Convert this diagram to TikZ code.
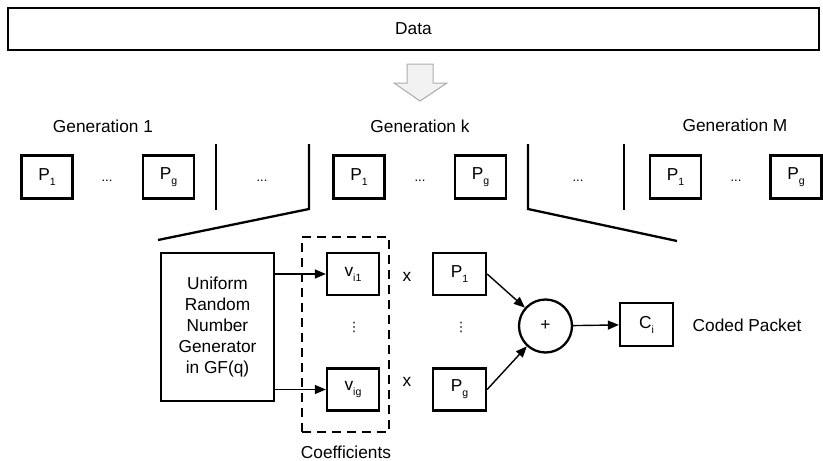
\documentclass[tikz,border=0pt]{standalone}
\usepackage{fontspec}
\setmainfont{Liberation Sans}
\newfontfamily\symfont{DejaVu Sans}
\usetikzlibrary{arrows.meta}
\newcommand{\mysub}[1]{\raisebox{-5pt}{\fontsize{10.5}{10.5}\selectfont #1}}
\begin{document}
\begin{tikzpicture}[x=1pt,y=-1pt,
  every node/.style={font=\fontsize{17.3}{21}\selectfont, inner sep=0pt},
  pbox/.style={draw, line width=2.3pt, minimum width=51pt, minimum height=43pt},
  sep/.style={line width=2.3pt},
  dotsn/.style={font=\fontsize{13}{13}\selectfont},
  vdotsn/.style={font=\symfont\fontsize{13}{13}\selectfont},
  arr/.style={line width=1.4pt, -{Triangle[length=11pt,width=9pt]}}]
\useasboundingbox (0,0) rectangle (823,461);
% data
\node[draw, line width=2.3pt, minimum width=811pt, minimum height=42pt] (data) at (413.5,29) {Data};
\draw[fill=gray!10, draw=gray!65, line width=1pt] (407,64) -- (433,64) -- (433,83) -- (447,83) -- (420,101) -- (394,83) -- (407,83) -- cycle;
% generation labels
\node (g1) at (103,126) {Generation 1};
\node (gk) at (420,126) {Generation k};
\node (gm) at (735,125) {Generation M};
% packets row
\node[pbox] (a1) at (47,177) {P\mysub{1}};
\node[dotsn] (ad) at (107,181) {...};
\node[pbox] (ag) at (168.5,177) {P\mysub{g}};
\node[pbox] (k1) at (359,177) {P\mysub{1}};
\node[dotsn] (kd) at (420,181) {...};
\node[pbox] (kg) at (480.5,177) {P\mysub{g}};
\node[pbox] (m1) at (675.5,177) {P\mysub{1}};
\node[dotsn] (md) at (736,181) {...};
\node[pbox] (mg) at (796,177) {P\mysub{g}};
\node[dotsn] (d1) at (262,181) {...};
\node[dotsn] (d2) at (578,181) {...};
% separators
\coordinate (s1t) at (216,144); \coordinate (s1b) at (216,210);
\coordinate (s2t) at (309,144); \coordinate (s2b) at (309,209); \coordinate (s2e) at (158,240);
\coordinate (s3t) at (528,144); \coordinate (s3b) at (528,209); \coordinate (s3e) at (677,241);
\coordinate (s4t) at (624,144); \coordinate (s4b) at (624,210);
\draw[sep] (s1t) -- (s1b);
\draw[sep] (s2t) -- (s2b) -- (s2e);
\draw[sep] (s3t) -- (s3b) -- (s3e);
\draw[sep] (s4t) -- (s4b);
% coding section
\node[draw, line width=2.3pt, minimum width=113pt, minimum height=148pt, align=center] (gen) at (217.5,327)
  {Uniform\\Random\\Number\\Generator\\in GF(q)};
\node[draw, line width=2.3pt, dash pattern=on 9pt off 6pt, minimum width=87pt, minimum height=195pt] (coef) at (345.5,334.5) {};
\node (coeflab) at (346,452) {Coefficients};
\node[pbox, minimum width=52pt, minimum height=42pt] (v1) at (353,274) {v\mysub{i1}};
\node[pbox, minimum width=52pt, minimum height=42pt] (vg) at (353,389.5) {v\mysub{ig}};
\node[vdotsn] (vdots1) at (354,327) {⋮};
\node (x1) at (407,277) {x};
\node (x2) at (407,382) {x};
\node[pbox, minimum width=53pt, minimum height=42pt] (b1) at (459.5,274) {P\mysub{1}};
\node[pbox, minimum width=53pt, minimum height=42pt] (bg) at (459.5,389.5) {P\mysub{g}};
\node[vdotsn] (vdots2) at (461,327) {⋮};
\node[draw, circle, line width=2.3pt, minimum size=53pt] (plus) at (545.5,326) {+};
\node[pbox, minimum width=53pt, minimum height=43pt] (ci) at (646.5,324.5) {C\mysub{i}};
\node (coded) at (747,325) {Coded Packet};
% arrows
\draw[arr] (gen.east |- v1.west) -- (v1.west);
\draw[arr] (gen.east |- vg.west) -- (vg.west);
\draw[arr] (b1.east) -- (plus);
\draw[arr] (bg.east) -- (plus);
\draw[arr] (plus) -- (ci);
\end{tikzpicture}
\end{document}
